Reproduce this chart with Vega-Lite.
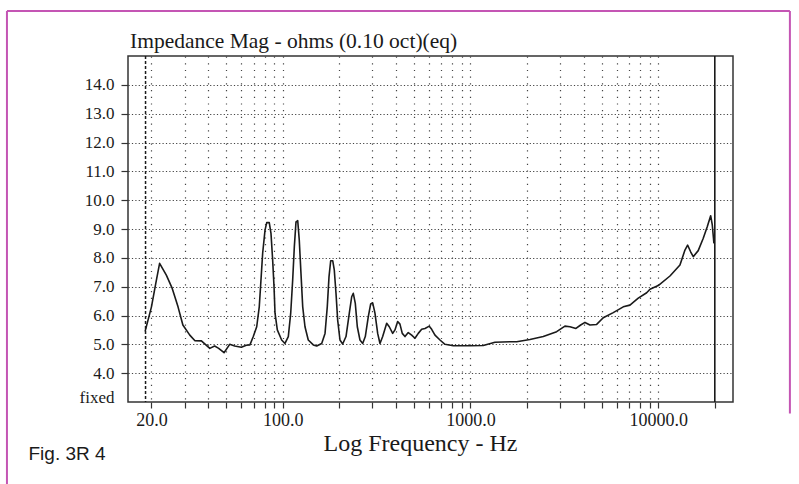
{
  "$schema": "https://vega.github.io/schema/vega-lite/v6.json",
  "width": 605,
  "height": 346,
  "autosize": {"type": "none"},
  "padding": {"left": 128, "top": 56, "right": 66, "bottom": 82},
  "background": "#ffffff",
  "title": {
    "text": "Impedance Mag - ohms (0.10 oct)(eq)",
    "anchor": "start",
    "frame": "group",
    "font": "Liberation Serif",
    "fontSize": 21.5,
    "fontWeight": "normal",
    "color": "#1a1a1a",
    "baseline": "alphabetic",
    "offset": 0,
    "dy": 59,
    "dx": 2
  },
  "config": {
    "view": {"stroke": "#333333", "strokeWidth": 1.5},
    "axis": {"domain": false}
  },
  "datasets": {
    "curve": [
      {"f": 18.5, "z": 5.45}, {"f": 20.0, "z": 6.3}, {"f": 21.1, "z": 7.12}, {"f": 22.1, "z": 7.81},
      {"f": 24.0, "z": 7.4}, {"f": 25.8, "z": 6.94}, {"f": 27.7, "z": 6.3}, {"f": 29.4, "z": 5.67},
      {"f": 32.0, "z": 5.32}, {"f": 34.0, "z": 5.13}, {"f": 36.9, "z": 5.12}, {"f": 40.9, "z": 4.86},
      {"f": 43.4, "z": 4.94}, {"f": 45.6, "z": 4.86}, {"f": 48.7, "z": 4.71}, {"f": 52.2, "z": 5.0},
      {"f": 55.5, "z": 4.94}, {"f": 60.2, "z": 4.9}, {"f": 64.0, "z": 4.97}, {"f": 66.9, "z": 4.98},
      {"f": 69.7, "z": 5.27}, {"f": 72.7, "z": 5.61}, {"f": 75.0, "z": 6.3}, {"f": 76.6, "z": 7.23},
      {"f": 78.2, "z": 8.16}, {"f": 80.5, "z": 8.96}, {"f": 82.2, "z": 9.22}, {"f": 84.8, "z": 9.22},
      {"f": 86.6, "z": 8.85}, {"f": 88.4, "z": 7.92}, {"f": 89.9, "z": 7.0}, {"f": 91.0, "z": 6.08},
      {"f": 93.6, "z": 5.5}, {"f": 98.7, "z": 5.15}, {"f": 102.8, "z": 5.03}, {"f": 107.1, "z": 5.27},
      {"f": 110.3, "z": 6.08}, {"f": 113.0, "z": 7.23}, {"f": 115.3, "z": 8.38}, {"f": 117.7, "z": 9.25},
      {"f": 120.2, "z": 9.29}, {"f": 122.5, "z": 8.62}, {"f": 125.1, "z": 7.46}, {"f": 127.8, "z": 6.3},
      {"f": 131.4, "z": 5.61}, {"f": 136.8, "z": 5.15}, {"f": 145.5, "z": 4.98}, {"f": 151.7, "z": 4.94},
      {"f": 161.3, "z": 5.03}, {"f": 168.0, "z": 5.38}, {"f": 172.7, "z": 6.3}, {"f": 176.4, "z": 7.34},
      {"f": 180.1, "z": 7.9}, {"f": 184.6, "z": 7.9}, {"f": 188.2, "z": 7.58}, {"f": 192.2, "z": 6.77},
      {"f": 196.2, "z": 5.84}, {"f": 201.8, "z": 5.15}, {"f": 208.6, "z": 5.01}, {"f": 217.3, "z": 5.27},
      {"f": 226.3, "z": 6.08}, {"f": 233.0, "z": 6.65}, {"f": 237.6, "z": 6.77}, {"f": 243.5, "z": 6.42},
      {"f": 249.6, "z": 5.61}, {"f": 257.9, "z": 5.15}, {"f": 266.6, "z": 5.03}, {"f": 275.3, "z": 5.27},
      {"f": 285.6, "z": 5.96}, {"f": 294.1, "z": 6.4}, {"f": 301.4, "z": 6.44}, {"f": 309.9, "z": 6.08},
      {"f": 320.4, "z": 5.38}, {"f": 329.6, "z": 5.03}, {"f": 340.7, "z": 5.27}, {"f": 357.8, "z": 5.73},
      {"f": 369.4, "z": 5.61}, {"f": 385.1, "z": 5.38}, {"f": 396.1, "z": 5.5}, {"f": 409.4, "z": 5.79},
      {"f": 421.1, "z": 5.7}, {"f": 433.2, "z": 5.38}, {"f": 447.8, "z": 5.27}, {"f": 466.2, "z": 5.41},
      {"f": 486.1, "z": 5.32}, {"f": 506.2, "z": 5.21}, {"f": 527.1, "z": 5.38}, {"f": 549.5, "z": 5.52},
      {"f": 572.3, "z": 5.55}, {"f": 603.3, "z": 5.63}, {"f": 621.2, "z": 5.52}, {"f": 647.0, "z": 5.32},
      {"f": 687.8, "z": 5.15}, {"f": 731.2, "z": 5.0}, {"f": 809.7, "z": 4.95}, {"f": 993.6, "z": 4.95},
      {"f": 1169.5, "z": 4.96}, {"f": 1350, "z": 5.07}, {"f": 1623, "z": 5.09}, {"f": 1762, "z": 5.09},
      {"f": 2073, "z": 5.17}, {"f": 2441, "z": 5.27}, {"f": 2876, "z": 5.44}, {"f": 3184, "z": 5.63},
      {"f": 3386, "z": 5.61}, {"f": 3644, "z": 5.55}, {"f": 3861, "z": 5.67}, {"f": 4070, "z": 5.76},
      {"f": 4327, "z": 5.67}, {"f": 4697, "z": 5.69}, {"f": 5093, "z": 5.92}, {"f": 5757, "z": 6.1},
      {"f": 6510, "z": 6.3}, {"f": 7066, "z": 6.36}, {"f": 7823, "z": 6.6}, {"f": 8672, "z": 6.79},
      {"f": 9031, "z": 6.91}, {"f": 9996, "z": 7.04}, {"f": 11540, "z": 7.37}, {"f": 13045, "z": 7.75},
      {"f": 13870, "z": 8.27}, {"f": 14330, "z": 8.44}, {"f": 14870, "z": 8.21}, {"f": 15360, "z": 8.04},
      {"f": 16320, "z": 8.25}, {"f": 17360, "z": 8.68}, {"f": 18230, "z": 9.08}, {"f": 19010, "z": 9.46},
      {"f": 19390, "z": 9.14}, {"f": 19790, "z": 8.5}
    ]
  },
  "layer": [
    {
      "data": {"name": "curve"},
      "mark": {"type": "line", "color": "#1a1a1a", "strokeWidth": 1.6, "strokeJoin": "round"},
      "encoding": {
        "x": {
          "field": "f",
          "type": "quantitative",
          "scale": {"type": "log", "domain": [15, 25000], "nice": false},
          "axis": {
            "values": [20, 30, 40, 50, 60, 70, 80, 90, 100, 200, 300, 400, 500, 600, 700, 800, 900, 1000, 2000, 3000, 4000, 5000, 6000, 7000, 8000, 9000, 10000, 20000],
            "tickCount": 60,
            "labelExpr": "(datum.value == 20 || datum.value == 100 || datum.value == 1000 || datum.value == 10000) ? format(datum.value, '.1f') : ''",
            "labelOverlap": false,
            "labelFlush": false,
            "labelFont": "Liberation Serif",
            "labelFontSize": 18,
            "labelColor": "#1a1a1a",
            "labelPadding": 3,
            "tickSize": 6,
            "tickColor": "#333333",
            "tickWidth": 1.2,
            "grid": true,
            "gridColor": "#444444",
            "gridWidth": 1.2,
            "gridDash": [1.2, 5.5],
            "gridOpacity": {"condition": {"test": "datum.value == 20000", "value": 0}, "value": 1},
            "title": "Log Frequency - Hz",
            "titleFont": "Liberation Serif",
            "titleFontSize": 24,
            "titleFontWeight": "normal",
            "titleColor": "#1a1a1a",
            "titleX": 292,
            "titleY": 48,
            "titleAlign": "center",
            "titleBaseline": "alphabetic"
          }
        },
        "y": {
          "field": "z",
          "type": "quantitative",
          "scale": {"domain": [3, 15], "nice": false, "zero": false},
          "axis": {
            "values": [3, 4, 5, 6, 7, 8, 9, 10, 11, 12, 13, 14],
            "tickCount": 30,
            "labelExpr": "datum.value == 3 ? 'fixed' : format(datum.value, '.1f')",
            "labelFont": "Liberation Serif",
            "labelFontSize": 17,
            "labelColor": "#1a1a1a",
            "labelPadding": 7,
            "labelBaseline": {"condition": {"test": "datum.value == 3", "value": "alphabetic"}, "value": "middle"},
            "labelOverlap": false,
            "labelFlush": false,
            "tickSize": 7,
            "tickColor": "#333333",
            "tickWidth": 1.2,
            "tickOpacity": {"condition": {"test": "datum.value == 3", "value": 0}, "value": 1},
            "grid": true,
            "gridColor": "#444444",
            "gridWidth": 1.2,
            "gridDash": [1.2, 2.2],
            "gridOpacity": {"condition": {"test": "datum.value == 3", "value": 0}, "value": 1},
            "title": "Fig. 3R 4",
            "titleAngle": 0,
            "titleX": -100,
            "titleY": 403,
            "titleAlign": "left",
            "titleBaseline": "alphabetic",
            "titleFont": "Liberation Sans",
            "titleFontSize": 19,
            "titleFontWeight": "normal",
            "titleColor": "#1a1a1a"
          }
        }
      }
    },
    {
      "data": {"values": [{}]},
      "mark": {"type": "rule", "color": "#1a1a1a", "strokeWidth": 1.5, "strokeDash": [3, 2]},
      "encoding": {"x": {"datum": 18.6, "type": "quantitative"}}
    },
    {
      "data": {"values": [{}]},
      "mark": {"type": "rule", "color": "#1a1a1a", "strokeWidth": 1.6},
      "encoding": {"x": {"datum": 20000, "type": "quantitative"}}
    },
    {
      "data": {"values": [{}]},
      "mark": {"type": "rule", "color": "#c455b4", "strokeWidth": 2, "clip": false},
      "encoding": {
        "x": {"datum": 3.4, "type": "quantitative"},
        "x2": {"datum": 50230},
        "y": {"datum": 16.56, "type": "quantitative"}
      }
    },
    {
      "data": {"values": [{}]},
      "mark": {"type": "rule", "color": "#c455b4", "strokeWidth": 2, "clip": false},
      "encoding": {
        "x": {"datum": 3.4, "type": "quantitative"},
        "y": {"datum": 16.56, "type": "quantitative"},
        "y2": {"datum": -5}
      }
    },
    {
      "data": {"values": [{}]},
      "mark": {"type": "rule", "color": "#c455b4", "strokeWidth": 2, "clip": false},
      "encoding": {
        "x": {"datum": 50230, "type": "quantitative"},
        "y": {"datum": 16.56, "type": "quantitative"},
        "y2": {"datum": 2.6}
      }
    }
  ]
}
